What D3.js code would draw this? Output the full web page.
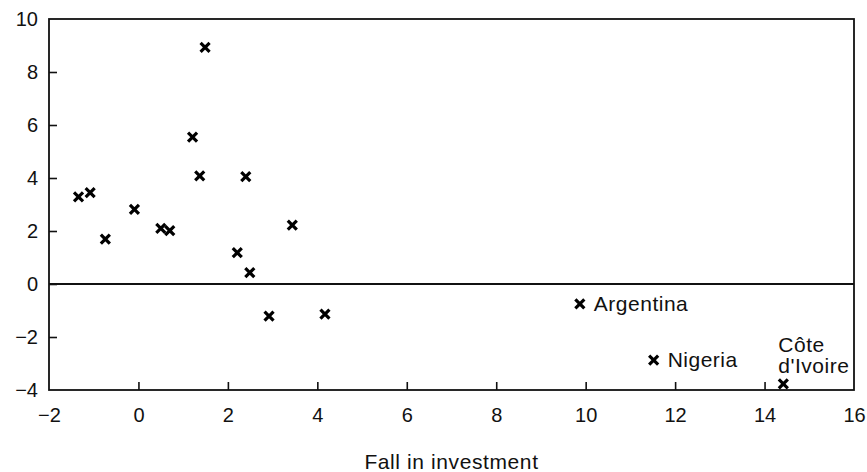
<!DOCTYPE html>
<meta charset="utf-8">
<style>
  body { margin: 0; background: #fff; }
  text { font-family: "Liberation Sans", Arial, sans-serif; fill: #111; }
</style>
<svg width="867" height="472"></svg>
<script src="https://cdn.jsdelivr.net/npm/d3@7"></script>
<script>
// x: fall in investment, y: unlabelled vertical measure
const fallInvestment = [-1.34, -1.08, -0.74, -0.09, 0.50, 0.70, 1.21, 1.37, 1.49, 2.21, 2.40, 2.49, 2.92, 3.44, 4.17, 9.87, 11.52, 14.42];
const yValues        = [ 3.29,  3.45,  1.69,  2.82, 2.10, 2.01, 5.54, 4.08, 8.93, 1.18, 4.05, 0.43, -1.21, 2.22, -1.14, -0.75, -2.87, -3.77];
const countryLabels  = ["", "", "", "", "", "", "", "", "", "", "", "", "", "", "", "Argentina", "Nigeria", "Côte d'Ivoire"];
const xTicks = [-2, 0, 2, 4, 6, 8, 10, 12, 14, 16];
const yTicks = [-4, -2, 0, 2, 4, 6, 8, 10];

const points = fallInvestment.map((x, i) => ({x, y: yValues[i], label: countryLabels[i]}));

const margin = {top: 19, right: 13, bottom: 82, left: 49};
const width = 867, height = 472;

const svg = d3.select("svg");

const x = d3.scaleLinear([-2, 16], [margin.left, width - margin.right]);
const y = d3.scaleLinear([-4, 10], [height - margin.bottom, margin.top]);

const frame = svg.append("g")
    .attr("fill", "none")
    .attr("stroke", "#111")
    .attr("stroke-width", 1.8);

frame.append("rect")
    .attr("x", x(-2))
    .attr("y", y(10))
    .attr("width", x(16) - x(-2))
    .attr("height", y(-4) - y(10));

// zero line
frame.append("line")
    .attr("x1", x(-2)).attr("x2", x(16))
    .attr("y1", y(0)).attr("y2", y(0));

// inward ticks
const xAxis = svg.append("g")
    .attr("transform", `translate(0,${y(-4)})`)
    .call(d3.axisBottom(x).tickValues(xTicks).tickSize(-8).tickPadding(18).tickFormat(d3.format("")))
    .call(g => g.select(".domain").remove())
    .call(g => g.selectAll(".tick line").attr("stroke", "#111").attr("stroke-width", 1.6))
    .call(g => g.selectAll(".tick").filter(d => d === -2 || d === 16).select("line").remove())
    .call(g => g.selectAll("text").attr("font-size", 20).attr("fill", "#111"));

const yAxis = svg.append("g")
    .attr("transform", `translate(${x(-2)},0)`)
    .call(d3.axisLeft(y).tickValues(yTicks).tickSize(-8).tickPadding(11).tickFormat(d3.format("")))
    .call(g => g.select(".domain").remove())
    .call(g => g.selectAll(".tick line").attr("stroke", "#111").attr("stroke-width", 1.6))
    .call(g => g.selectAll(".tick").filter(d => d === -4 || d === 10).select("line").remove())
    .call(g => g.selectAll("text").attr("font-size", 20).attr("fill", "#111"));

svg.append("text")
    .attr("x", (x(-2) + x(16)) / 2)
    .attr("y", 469)
    .attr("text-anchor", "middle")
    .attr("font-size", 21)
    .attr("letter-spacing", 0.6)
    .text("Fall in investment");

// markers
svg.append("g")
    .attr("stroke", "#000")
    .attr("stroke-width", 3.2)
    .attr("fill", "none")
  .selectAll("path")
  .data(points)
  .join("path")
    .attr("transform", d => `translate(${x(d.x)},${y(d.y)})`)
    .attr("d", "M-4.5,-4.5L4.5,4.5M-4.5,4.5L4.5,-4.5");

// labels
const labelled = points.filter(d => d.label);
const lab = svg.append("g")
    .attr("font-size", 21)
    .attr("letter-spacing", 0.5);

lab.selectAll("text")
  .data(labelled.filter(d => d.label !== "Côte d'Ivoire"))
  .join("text")
    .attr("x", d => x(d.x) + 14)
    .attr("y", d => y(d.y))
    .attr("dy", "0.35em")
    .text(d => d.label);

const cote = labelled.find(d => d.label === "Côte d'Ivoire");
const coteText = lab.append("text")
    .attr("x", x(cote.x) - 5)
    .attr("y", y(cote.y) - 32);
cote.label.split(" ").forEach((w, i) => {
  coteText.append("tspan")
      .attr("x", x(cote.x) - 5)
      .attr("dy", i ? 21 : 0)
      .text(w);
});
</script>
